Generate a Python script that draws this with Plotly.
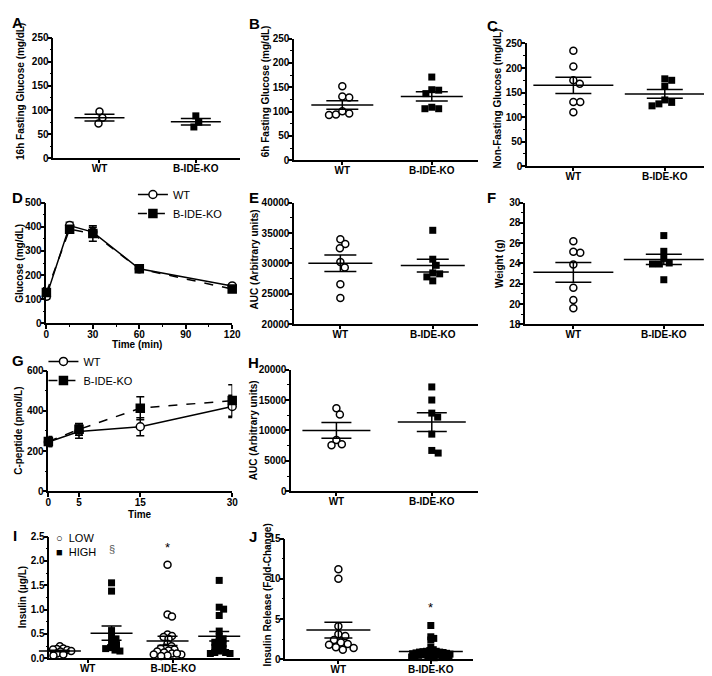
import numpy as np
import plotly.graph_objects as go

W, H = 712, 676
FONT = "Liberation Sans, Arial, sans-serif"

# ---------------- data ----------------
groups = ["WT", "B-IDE-KO"]
a_wt = [97, 84, 72]
a_ko = [88, 75, 65]
b_wt = [152, 131, 129, 96, 93, 94, 101]
b_ko = [171, 144, 145, 137, 109, 106, 106]
c_wt = [235, 203, 168, 175, 131, 131, 110]
c_ko = [175, 178, 163, 130, 123, 127, 135]
d_time = [0, 15, 30, 60, 120]
d_wt = [112, 405, 378, 226, 155]
d_wt_err = [10, 14, 20, 8, 6]
d_ko = [128, 390, 372, 226, 142]
d_ko_err = [10, 12, 32, 8, 6]
e_wt = [34000, 33200, 32500, 30250, 29350, 26600, 24350]
e_ko = [35450, 30700, 29700, 28450, 28300, 27800, 27150]
f_wt = [26.2, 25.05, 25.15, 23.9, 21.6, 20.4, 19.6]
f_ko = [26.75, 25.2, 24.5, 23.95, 23.95, 24.05, 22.4]
g_time = [0, 5, 15, 30]
g_wt = [245, 297, 321, 422]
g_wt_err = [22, 33, 45, 55]
g_ko = [248, 308, 413, 451]
g_ko_err = [25, 29, 57, 78]
h_wt = [13650, 12630, 8440, 7580, 7740]
h_ko = [17150, 15000, 12850, 12200, 9400, 6720, 6290]
i_wt_low = [0.25, 0.20, 0.19, 0.18, 0.17, 0.16, 0.15, 0.14, 0.12, 0.10, 0.08, 0.06]
i_wt_high = [1.55, 1.38, 0.57, 0.45, 0.40, 0.32, 0.28, 0.22, 0.20, 0.17, 0.15]
i_ko_low = [1.92, 0.90, 0.86, 0.49, 0.46, 0.44, 0.40, 0.30, 0.25, 0.22, 0.20,
            0.18, 0.16, 0.14, 0.12, 0.10, 0.08, 0.06, 0.10, 0.08, 0.05]
i_ko_high = [1.60, 1.05, 1.01, 0.88, 0.56, 0.45, 0.40, 0.35, 0.33, 0.30, 0.25,
             0.22, 0.20, 0.15, 0.12, 0.10, 0.12, 0.10]
j_wt = [11.2, 10.0, 4.1, 3.1, 2.9, 2.4, 2.1, 1.9, 1.8, 1.5, 1.4, 1.2]
j_ko = [4.2, 2.8, 2.6, 2.4, 1.5, 1.2, 1.1, 1.0, 1.0, 0.95, 0.9, 0.9, 0.85, 0.8,
        0.8, 0.75, 0.7, 0.7, 0.65, 0.6, 0.6, 0.55, 0.5, 0.5, 0.45, 0.4, 0.4,
        0.35, 0.3, 0.3, 0.25, 0.2]


def mean_sem(v):
    a = np.asarray(v, float)
    return a.mean(), a.std(ddof=1) / np.sqrt(len(a))


def swarm(vals, ypx, xpx, d=7.0):
    """Deterministic beeswarm offsets (data units along x)."""
    order = sorted(range(len(vals)), key=lambda i: -vals[i])
    placed, offs = [], [0.0] * len(vals)
    for i in order:
        y = vals[i] * ypx
        k = 0.0
        while True:
            cands = [0.0] if k == 0 else [k, -k]
            ok = None
            for c in cands:
                if all((c - px) ** 2 + (y - py) ** 2 >= d * d for px, py in placed):
                    ok = c
                    break
            if ok is not None:
                break
            k += 0.5
        placed.append((ok, y))
        offs[i] = ok / xpx
    return offs


fig = go.Figure()
layout = dict(width=W, height=H, margin=dict(l=0, r=0, t=0, b=0),
              paper_bgcolor="white", plot_bgcolor="white", showlegend=True,
              font=dict(family=FONT, color="black"))
tickfont = dict(family=FONT, size=10, color="black", weight="bold")
titlefont = dict(family=FONT, size=10, color="black", weight="bold")
ann = []


def ytitle(text, xc, yc):
    ann.append(dict(text=text, x=xc / W, y=1 - yc / H, xref="paper",
                    yref="paper", showarrow=False, textangle=-90, font=titlefont,
                    xanchor="center", yanchor="middle"))


def yaxis(n, top, bot, rng, dtick, minor, title, txc, fmt=None, tshift=0):
    layout[f"yaxis{n}"] = dict(
        domain=[1 - bot / H, 1 - top / H], range=rng, anchor=f"x{n}",
        tickmode="linear", tick0=rng[0], dtick=dtick, ticks="outside", ticklen=4,
        tickwidth=1.5, tickcolor="black", showline=True, linewidth=1.5,
        linecolor="black", showgrid=False, zeroline=False, tickfont=tickfont,
        ticklabelstandoff=-3, tickformat=fmt,
        minor=dict(ticks="outside", ticklen=2, tickwidth=1, tickcolor="black", dtick=minor))
    ytitle(title, txc, (top + bot) / 2 - tshift)


def xaxis(n, left, right, rng, **kw):
    d = dict(domain=[left / W, right / W], range=rng, anchor=f"y{n}",
             ticks="outside", ticklen=3, tickwidth=1.5, tickcolor="black",
             showline=True, linewidth=1.5, linecolor="black", showgrid=False,
             zeroline=False, tickfont=tickfont, ticklabelstandoff=-3)
    d.update(kw)
    layout[f"xaxis{n}"] = d


def column_panel(n, wt, ko, left, right, top, bot, wpx, kpx, rng, dtick, minor,
                 title, txc, mhw, cap, fmt=None, dd=(7.0, 7.0), tshift=0):
    unit = kpx - wpx
    xaxis(n, left, right, [(left - wpx) / unit, (right - wpx) / unit],
          tickmode="array", tickvals=[0, 1], ticktext=groups)
    yaxis(n, top, bot, rng, dtick, minor, title, txc, fmt, tshift)
    ypx = (bot - top) / (rng[1] - rng[0])
    for gi, (vals, sym) in enumerate([(wt, "circle"), (ko, "square")]):
        offs = swarm([v - rng[0] for v in vals], ypx, unit, d=dd[gi])
        fig.add_trace(go.Scatter(
            x=[gi + o for o in offs], y=vals, mode="markers", showlegend=False,
            xaxis=f"x{n}", yaxis=f"y{n}", cliponaxis=False,
            marker=dict(symbol=sym, size=7,
                        color="white" if sym == "circle" else "black",
                        line=dict(color="black", width=1.5 if sym == "circle" else 0))))
    ms = [mean_sem(wt), mean_sem(ko)]
    fig.add_trace(go.Scatter(
        x=[0, 1], y=[m for m, s in ms], mode="markers", showlegend=False,
        xaxis=f"x{n}", yaxis=f"y{n}", cliponaxis=False,
        marker=dict(symbol="line-ew", size=2 * mhw / 1.4,
                    line=dict(color="black", width=1.5)),
        error_y=dict(type="data", array=[s for m, s in ms], width=cap,
                     thickness=1.5, color="black")))


# A, B, C
column_panel(1, a_wt, a_ko, 43, 233, 24, 147, 90, 188, [0, 250], 50, 25,
             "16h Fasting Glucose (mg/dL)", 9, 25, 15, tshift=7)
column_panel(2, b_wt, b_ko, 288, 475, 25, 149, 337, 428, [0, 250], 50, 25,
             "6h Fasting Glucose (mg/dL)", 259, 31, 16, tshift=8)
column_panel(3, c_wt, c_ko, 525, 712, 30, 155, 572, 665, [0, 250], 50, 25,
             "Non-Fasting Glucose (mg/dL)", 495, 40, 18, tshift=6)
# E, F, H, J
column_panel(5, e_wt, e_ko, 288, 475, 192, 316, 335, 429, [20000, 40000], 5000, 2500,
             "AUC (Arbitrary units)", 248, 32, 16, fmt="d", tshift=4)
column_panel(6, f_wt, f_ko, 523, 712, 192, 316, 572, 664, [18, 30], 2, 1,
             "Weight (g)", 497, 40, 18)
column_panel(8, h_wt, h_ko, 285, 475, 362, 486, 331, 428, [0, 20000], 5000, 2500,
             "AUC (Arbitrary units)", 247, 34, 15, fmt="d")
column_panel(10, j_wt, j_ko, 279, 470, 534, 657, 333, 427, [0, 15], 5, 2.5,
             "Insulin Release (Fold-Change)", 260, 32, 14, dd=(7.0, 3.2), tshift=4)

# D: time course
xaxis(4, 36, 225, [0, 120], tickmode="linear", tick0=0, dtick=30, ticklen=4,
      minor=dict(ticks="outside", ticklen=2, tickwidth=1, tickcolor="black", dtick=15))
yaxis(4, 192, 315, [0, 500], 100, 50, "Glucose (mg/dL)", 8)
ann.append(dict(text="Time (min)", x=128 / W, y=1 - 336 / H, xref="paper", yref="paper",
                showarrow=False, font=titlefont, xanchor="center", yanchor="middle"))
for name, ys, err, sym, dash in [("WT", d_wt, d_wt_err, "circle", "solid"),
                                 ("B-IDE-KO", d_ko, d_ko_err, "square", "dash")]:
    fig.add_trace(go.Scatter(
        x=d_time, y=ys, name=name, mode="lines+markers", xaxis="x4", yaxis="y4",
        legend="legend", cliponaxis=False,
        line=dict(color="black", width=1.5, dash=dash),
        marker=dict(symbol=sym, size=8, color="white" if sym == "circle" else "black",
                    line=dict(color="black", width=1.5)),
        error_y=dict(type="data", array=err, width=4, thickness=1.5, color="black")))

# G: C-peptide time course
xaxis(7, 38, 225, [0, 30], tickmode="array", tickvals=g_time, ticklen=4)
yaxis(7, 363, 486, [0, 600], 200, 100, "C-peptide (pmol/L)", 8)
ann.append(dict(text="Time", x=131 / W, y=1 - 510 / H, xref="paper", yref="paper",
                showarrow=False, font=titlefont, xanchor="center", yanchor="middle"))
for name, ys, err, sym, dash in [("WT", g_wt, g_wt_err, "circle", "solid"),
                                 ("B-IDE-KO", g_ko, g_ko_err, "square", "dash")]:
    fig.add_trace(go.Scatter(
        x=g_time, y=ys, name=name, mode="lines+markers", xaxis="x7", yaxis="y7",
        legend="legend2", cliponaxis=False,
        line=dict(color="black", width=1.5, dash=dash),
        marker=dict(symbol=sym, size=8, color="white" if sym == "circle" else "black",
                    line=dict(color="black", width=1.5)),
        error_y=dict(type="data", array=err, width=4, thickness=1.5, color="black")))

# I: grouped column scatter
i_unit = 109.5
i_wt_c, i_sub = 76, 0.24
i_top, i_bot = 532, 656
xaxis(9, 39, 233, [(39 - i_wt_c) / i_unit, (233 - i_wt_c) / i_unit],
      tickmode="array", tickvals=[(78 - i_wt_c) / i_unit, (165 - i_wt_c) / i_unit],
      ticktext=groups)
yaxis(9, i_top, i_bot, [0, 2.5], 0.5, 0.25, "Insulin (\u00b5g/L)", 12, fmt=".1f")
i_ypx = (i_bot - i_top) / 2.5
i_sets = [(0, -i_sub, i_wt_low, "circle", 4.0),
          (0, i_sub, i_wt_high, "square", 5.0),
          (1, -i_sub, i_ko_low, "circle", 4.5),
          (1, i_sub, i_ko_high, "square", 4.5)]
i_mx, i_my, i_me = [], [], []
for g, sub, vals, sym, dd in i_sets:
    offs = swarm(vals, i_ypx, i_unit, d=dd)
    fig.add_trace(go.Scatter(
        x=[g + sub + o for o in offs], y=vals, mode="markers", showlegend=False,
        xaxis="x9", yaxis="y9", cliponaxis=False,
        marker=dict(symbol=sym, size=7, color="white" if sym == "circle" else "black",
                    line=dict(color="black", width=1.5 if sym == "circle" else 0))))
    m, s = mean_sem(vals)
    i_mx.append(g + sub)
    i_my.append(m)
    i_me.append(s)
fig.add_trace(go.Scatter(
    x=i_mx, y=i_my, mode="markers", showlegend=False, xaxis="x9", yaxis="y9",
    cliponaxis=False,
    marker=dict(symbol="line-ew", size=42 / 1.4, line=dict(color="black", width=1.5)),
    error_y=dict(type="data", array=i_me, width=10, thickness=1.5, color="black")))
for txt, py in [("\u25cb  LOW", 533), ("\u25a0  HIGH", 548)]:
    ann.append(dict(text=txt, x=44 / W, y=1 - py / H, xref="paper", yref="paper",
                    showarrow=False, xanchor="left", yanchor="middle",
                    font=dict(family=FONT, size=11, color="black")))

# legends
leg_common = dict(bgcolor="rgba(0,0,0,0)", font=dict(family=FONT, size=11, color="black"),
                  xanchor="left", yanchor="top", itemwidth=30, tracegroupgap=0,
                  xref="paper", yref="paper")
layout["legend"] = dict(x=124 / W, y=1 - 169 / H, **leg_common)
layout["legend2"] = dict(x=33 / W, y=1 - 339 / H, **leg_common)

# panel letters and significance marks
for letter, px, py in [("A", 7, 9), ("B", 248, 10), ("C", 490, 12), ("D", 7, 187),
                       ("E", 247, 187), ("F", 489, 187), ("G", 7, 353),
                       ("H", 247, 355), ("I", 4, 531), ("J", 246, 532)]:
    ann.append(dict(text=letter, x=px / W, y=1 - py / H, xref="paper", yref="paper",
                    showarrow=False, font=dict(family=FONT, size=15, color="black",
                                               weight="bold"),
                    xanchor="center", yanchor="middle"))
ann.append(dict(text="\u00a7", x=i_sub, y=2.25, xref="x9", yref="y9", showarrow=False,
                font=dict(family=FONT, size=11, color="#555")))
ann.append(dict(text="*", x=1 - i_sub, y=2.28, xref="x9", yref="y9", showarrow=False,
                font=dict(family=FONT, size=13, color="black")))
ann.append(dict(text="*", x=1, y=6.4, xref="x10", yref="y10", showarrow=False,
                font=dict(family=FONT, size=13, color="black")))
layout["annotations"] = ann

fig.update_layout(**layout)
fig.write_html("out.html")
